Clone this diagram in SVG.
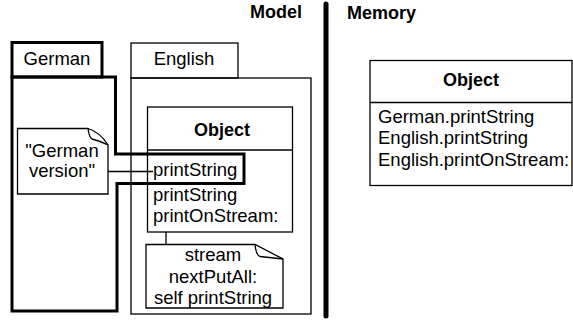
<svg xmlns="http://www.w3.org/2000/svg" width="573" height="320" viewBox="0 0 573 320">
<style>
text{font-family:"Liberation Sans",Arial,sans-serif;font-size:18.5px;fill:#000}
.b{font-weight:bold;font-size:18px}
.c{text-anchor:middle}
.thin{fill:none;stroke:#000;stroke-width:1.3}
.thick{fill:none;stroke:#000;stroke-width:3;stroke-linejoin:miter}
.note{fill:#fff;stroke:#000;stroke-width:1.3}
</style>
<rect width="573" height="320" fill="#fff"/>
<g id="titles">
<text class="b" x="250" y="18">Model</text>
<text class="b" x="347" y="19">Memory</text>
<line x1="326" y1="4" x2="326" y2="316" stroke="#000" stroke-width="5" stroke-linecap="round"/>
</g>
<g id="english">
<rect class="thin" x="131" y="43" width="107" height="35"/>
<rect class="thin" x="131" y="78" width="180" height="236"/>
<text class="c" x="184" y="65">English</text>
</g>
<g id="german">
<rect class="thick" x="12" y="42.5" width="90" height="34.5"/>
<path class="thick" d="M12,77 L115.5,77 L115.5,154 L244,154 L244,183.5 L117,183.5 L117,311 L12,311 Z"/>
<text class="c" x="57" y="65">German</text>
</g>
<g id="object-model">
<rect class="thin" x="147.5" y="107" width="145" height="125"/>
<line class="thin" x1="147.5" y1="150" x2="292.5" y2="150"/>
<text class="b c" x="222" y="136">Object</text>
<text x="153" y="176">printString</text>
<text x="153" y="201">printString</text>
<text x="153" y="222">printOnStream:</text>
</g>
<g id="connectors">
<line class="thin" x1="108" y1="171.5" x2="153" y2="171.5"/>
<line class="thin" x1="166" y1="232" x2="166" y2="244.5"/>
</g>
<g id="note-german">
<path class="note" d="M17.5,128.5 L88,128.5 Q100,132 108,145 L108,194 L17.5,194 Z"/>
<path class="thin" d="M88,128.5 Q89,137 92,139 Q100,141 108,145"/>
<text class="c" x="62" y="157">"German</text>
<text class="c" x="62" y="177">version"</text>
</g>
<g id="note-stream">
<path class="note" d="M146,244.5 L255,244.5 L283,259 L283,308 L146,308 Z"/>
<path class="thin" d="M255,244.5 Q256,255 260,256.5 L283,259"/>
<text class="c" x="213" y="261">stream</text>
<text class="c" x="213" y="283">nextPutAll:</text>
<text class="c" x="213" y="304">self printString</text>
</g>
<g id="object-memory">
<rect class="thin" x="370" y="60.5" width="202" height="125"/>
<line class="thin" x1="370" y1="102.5" x2="572" y2="102.5"/>
<text class="b c" x="471" y="86">Object</text>
<text x="378" y="122.5">German.printString</text>
<text x="378" y="144">English.printString</text>
<text x="378" y="165.5">English.printOnStream:</text>
</g>
</svg>
